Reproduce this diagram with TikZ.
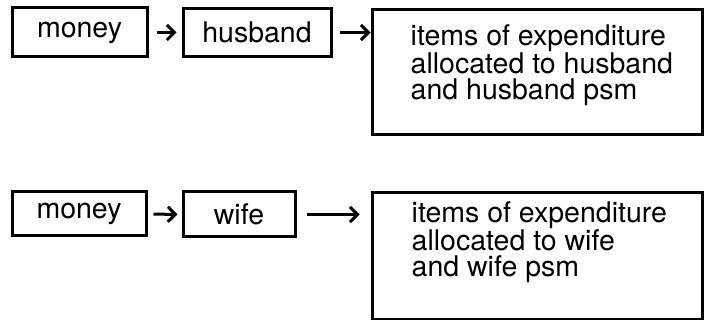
\documentclass[tikz,border=0pt]{standalone}
\usepackage{fontspec}
\setmainfont{TeX Gyre Heros}
\usetikzlibrary{arrows.meta}
\begin{document}
\begin{tikzpicture}[x=1pt,y=-1pt,
  box/.style={draw,line width=3pt,inner sep=0pt,font=\fontsize{28.5}{26}\selectfont},
  txt/.style={inner sep=0pt,align=left,anchor=west,font=\fontsize{28.5}{26}\selectfont},
  arr/.style={line width=3pt,-{Straight Barb[length=7.5pt,width=15pt,line width=3pt]}}]
\useasboundingbox (0,0) rectangle (704,320);
% top row
\node[box,minimum width=135pt,minimum height=49pt] (m1) at (79.5,32.5) {money};
\node[box,minimum width=148pt,minimum height=48pt] (h) at (257,32.5) {husband};
\node[box,minimum width=330pt,minimum height=125pt] (b1) at (537,72.5) {};
\node[txt] (t1) at ([xshift=40pt,yshift=7pt]b1.west) {items of expenditure\\allocated to husband\\and husband psm};
\draw[arr,shorten <=8pt,shorten >=5pt] (m1.east) -- (h.west);
\draw[arr,shorten <=7pt] (h.east) -- (h.east -| b1.west);
% bottom row
\node[box,minimum width=134pt,minimum height=44pt] (m2) at (79,214) {money};
\node[box,minimum width=112pt,minimum height=45pt] (w) at (239,214.5) {wife};
\node[box,minimum width=330pt,minimum height=126pt] (b2) at (537,256) {};
\node[txt] (t2) at ([xshift=41pt,yshift=14pt]b2.west) {items of expenditure\\allocated to wife\\and wife psm};
\draw[arr,shorten <=6pt,shorten >=4pt] (m2.east) -- (w.west);
\draw[arr,shorten <=10pt,shorten >=11pt] (w.east) -- (w.east -| b2.west);
\end{tikzpicture}
\end{document}
